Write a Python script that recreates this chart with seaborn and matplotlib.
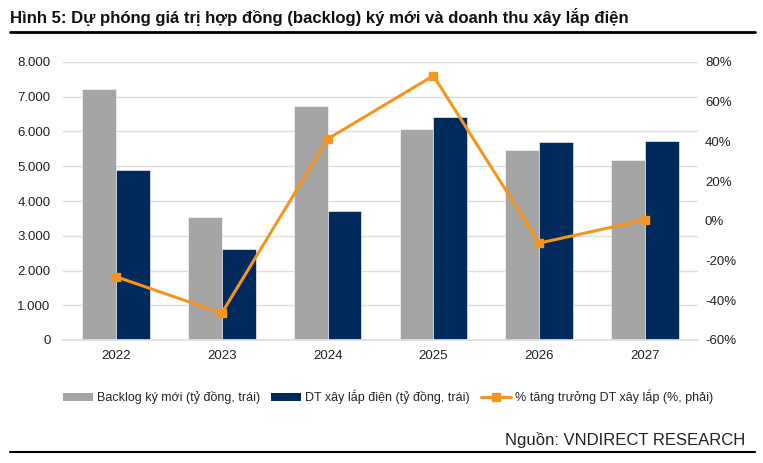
import matplotlib
matplotlib.use("Agg")
import matplotlib.pyplot as plt
from matplotlib.ticker import FuncFormatter, MultipleLocator
from matplotlib.lines import Line2D
from matplotlib.patches import Patch
import seaborn as sns
import pandas as pd
import numpy as np

years = ["2022", "2023", "2024", "2025", "2026", "2027"]
backlog = [7220, 3550, 6720, 6060, 5465, 5190]
dt_xaylap = [4880, 2620, 3700, 6405, 5695, 5725]
growth = [-28.1, -46.5, 41.2, 73.1, -11.2, 0.5]

lbl_backlog = "Backlog ký mới (tỷ đồng, trái)"
lbl_dt = "DT xây lắp điện (tỷ đồng, trái)"
lbl_growth = "% tăng trưởng DT xây lắp (%, phải)"

c_gray = "#A5A5A5"
c_navy = "#002A5C"
c_orange = "#F7941D"

sns.set_theme(style="white")
plt.rcParams["font.family"] = ["Liberation Sans", "DejaVu Sans"]

df = pd.DataFrame({
    "year": years * 2,
    "value": backlog + dt_xaylap,
    "series": [lbl_backlog] * len(years) + [lbl_dt] * len(years),
})

fig = plt.figure(figsize=(7.63, 4.63), dpi=100)
ax = fig.add_axes([63 / 763, 1 - 340 / 463, (698 - 63) / 763, (340 - 62) / 463])

sns.barplot(data=df, x="year", y="value", hue="series", order=years,
            hue_order=[lbl_backlog, lbl_dt], palette=[c_gray, c_navy],
            width=0.64, gap=0, ax=ax, legend=False, saturation=1,
            edgecolor="white", linewidth=0.4)

ax.set_ylim(0, 8000)
ax.set_xlim(-0.5, len(years) - 0.5)
ax.yaxis.set_major_locator(MultipleLocator(1000))
ax.yaxis.set_major_formatter(FuncFormatter(lambda v, p: f"{int(v):,}".replace(",", ".")))
ax.grid(axis="y", color="#DEDEDE", linewidth=1)
ax.set_axisbelow(True)
for s in ["top", "right", "left"]:
    ax.spines[s].set_visible(False)
ax.spines["bottom"].set_color("#DEDEDE")
ax.set_xlabel("")
ax.set_ylabel("")
ax.tick_params(axis="both", length=0, labelsize=9.5, colors="#222222")
ax.tick_params(axis="y", pad=9)
ax.tick_params(axis="x", pad=7)

ax2 = ax.twinx()
ax2.plot(np.arange(len(years)), growth, color=c_orange, linewidth=2.2,
         marker="s", markersize=5.5, zorder=5)
ax2.set_ylim(-60, 80)
ax2.yaxis.set_major_locator(MultipleLocator(20))
ax2.yaxis.set_major_formatter(FuncFormatter(lambda v, p: f"{int(round(v))}%"))
for s in ["top", "right", "left", "bottom"]:
    ax2.spines[s].set_visible(False)
ax2.tick_params(axis="y", length=0, labelsize=9.5, colors="#222222", pad=5)
ax2.set_ylabel("")

handles = [
    Patch(facecolor=c_gray, edgecolor="none"),
    Patch(facecolor=c_navy, edgecolor="none"),
    Line2D([0], [0], color=c_orange, linewidth=2.2, marker="s", markersize=5.5),
]
fig.legend(handles, [lbl_backlog, lbl_dt, lbl_growth], loc="center",
           bbox_to_anchor=(388 / 763, 1 - 397 / 463), ncol=3, frameon=False,
           fontsize=9, handlelength=2.4, handleheight=0.55, handletextpad=0.3,
           columnspacing=0.9)

fig.text(10 / 763, 1 - 17 / 463, "Hình 5: Dự phóng giá trị hợp đồng (backlog) ký mới và doanh thu xây lắp điện",
         fontsize=12.1, fontweight="bold", ha="left", va="center", color="#111111")
fig.text(745 / 763, 1 - 440 / 463, "Nguồn: VNDIRECT RESEARCH", fontsize=12,
         ha="right", va="center", color="#222222")

fig.add_artist(Line2D([10 / 763, 755 / 763], [1 - 32 / 463, 1 - 32 / 463],
                      color="black", linewidth=2, transform=fig.transFigure))
fig.add_artist(Line2D([10 / 763, 755 / 763], [1 - 452 / 463, 1 - 452 / 463],
                      color="black", linewidth=1.5, transform=fig.transFigure))

fig.savefig("out.png", dpi=100)
